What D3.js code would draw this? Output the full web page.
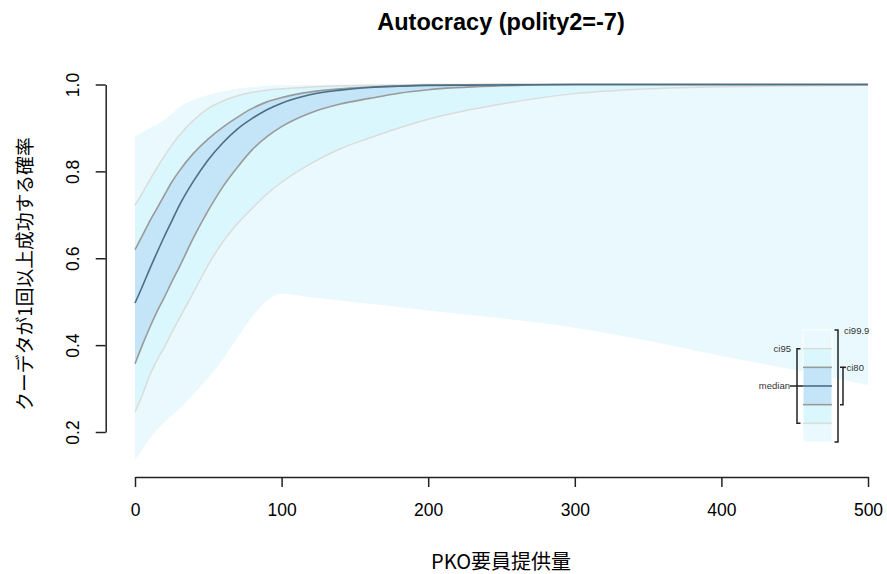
<!DOCTYPE html>
<html>
<head>
<meta charset="utf-8">
<script src="https://cdn.jsdelivr.net/npm/d3@7"></script>
<style>
  body { margin: 0; background: #fff; }
  text { font-family: "Liberation Sans", Arial, sans-serif; }
  .jp { font-family: "Noto Sans CJK JP", "Liberation Sans", sans-serif; }
</style>
</head>
<body>
<svg class="chart"></svg>
<script>
// Données
let xs     = [0, 5, 10, 15, 20, 25, 30, 40, 50, 60, 70, 80, 90, 100, 120, 140, 160, 180, 200, 250, 300, 350, 400, 450, 500];
let hi999  = [.881, .89, .90, .908, .918, .932, .947, .965, .976, .984, .99, .994, .997, .998, .999, 1, 1, 1, 1, 1, 1, 1, 1, 1, 1];
let hi95   = [.722, .75, .78, .808, .835, .86, .882, .918, .945, .962, .974, .982, .987, .990, .994, .997, .998, .999, 1, 1, 1, 1, 1, 1, 1];
let hi80   = [.62, .652, .685, .715, .745, .775, .80, .842, .875, .902, .925, .945, .96, .97, .983, .99, .994, .997, .999, 1, 1, 1, 1, 1, 1];
let median = [.497, .535, .575, .613, .65, .685, .72, .778, .827, .866, .898, .922, .942, .957, .977, .987, .993, .996, .998, .999, 1, 1, 1, 1, 1];
let lo80   = [.357, .40, .44, .477, .51, .545, .578, .648, .71, .765, .81, .85, .88, .903, .935, .955, .968, .98, .988, .997, 1, 1, 1, 1, 1];
let lo95   = [.246, .285, .33, .365, .395, .428, .46, .522, .585, .638, .68, .715, .748, .775, .818, .852, .877, .90, .92, .955, .979, .99, .995, .997, .998];
let lo999  = [.135, .16, .185, .205, .222, .238, .253, .288, .325, .368, .418, .466, .502, .518, .51, .503, .495, .488, .48, .462, .44, .41, .375, .343, .308];

let xTicks = [0, 100, 200, 300, 400, 500];
let yTicks = [0.2, 0.4, 0.6, 0.8, 1.0];
let legendKeys = ["ci99.9", "ci95", "ci80", "median"];

let title = "Autocracy (polity2=-7)";
let xTitle = "PKO要員提供量";
let yTitle = "クーデタが1回以上成功する確率";

let col = {c999: "#eaf9fd", c95: "#d9f7fc", c80: "#c4e4f7", l95: "#dcdcdc", l80: "#9a9a9a", med: "#4a6e85"};

let W = 887, H = 574;
let svg = d3.select(".chart").attr("width", W).attr("height", H);

// Echelles
let x = d3.scaleLinear().domain([0, 500]).range([135, 868]);
let y = d3.scaleLinear().domain([0.2, 1.0]).range([432, 84.5]);

let rows = xs.map(function(v, i) {
  return {x: v, hi999: hi999[i], hi95: hi95[i], hi80: hi80[i], med: median[i],
          lo80: lo80[i], lo95: lo95[i], lo999: lo999[i]};
});

function band(lo, hi) {
  return d3.area().curve(d3.curveMonotoneX)
    .x(function(d) { return x(d.x); })
    .y0(function(d) { return y(d[lo]); })
    .y1(function(d) { return y(d[hi]); });
}
function line(k) {
  return d3.line().curve(d3.curveMonotoneX)
    .x(function(d) { return x(d.x); })
    .y(function(d) { return y(d[k]); });
}

// Bandes
svg.append("path").datum(rows).attr("d", band("lo999", "hi999")).attr("fill", col.c999);
svg.append("path").datum(rows).attr("d", band("lo95", "hi95")).attr("fill", col.c95);
svg.append("path").datum(rows).attr("d", band("lo80", "hi80")).attr("fill", col.c80);

// Lignes
[["hi95", col.l95, 1.5], ["lo95", col.l95, 1.5], ["hi80", col.l80, 1.6], ["lo80", col.l80, 1.6], ["med", col.med, 1.6]]
  .forEach(function(s) {
    svg.append("path").datum(rows).attr("d", line(s[0]))
      .attr("fill", "none").attr("stroke", s[1]).attr("stroke-width", s[2]);
  });

// Axe x
let gx = svg.append("g").attr("transform", "translate(0,477)")
  .call(d3.axisBottom(x).tickValues(xTicks).tickSize(10).tickSizeOuter(0).tickPadding(17));
gx.selectAll("text").attr("font-size", "17.5px").attr("fill", "#000").style("font-family", "Liberation Sans, Arial, sans-serif");

// Axe y
let gy = svg.append("g").attr("transform", "translate(105.7,0)")
  .call(d3.axisLeft(y).tickValues(yTicks).tickSize(10).tickSizeOuter(0).tickFormat(d3.format(".1f")));
gy.selectAll("text")
  .attr("transform", "rotate(-90)")
  .attr("x", 0).attr("y", -33).attr("dy", "0.35em")
  .attr("text-anchor", "middle")
  .attr("font-size", "17.5px").attr("fill", "#000").style("font-family", "Liberation Sans, Arial, sans-serif");
[gx, gy].forEach(function(g) {
  g.selectAll("path, line").attr("stroke", "#222").attr("stroke-width", 1.5);
});

// Titres
svg.append("text").attr("x", 501).attr("y", 30).attr("text-anchor", "middle")
  .attr("font-size", "23.5px").attr("font-weight", "bold").text(title);
svg.append("text").attr("class", "jp").attr("x", 501).attr("y", 569).attr("text-anchor", "middle")
  .attr("font-size", "20px").text(xTitle);
svg.append("text").attr("class", "jp").attr("transform", "translate(32,274) rotate(-90)")
  .attr("text-anchor", "middle").attr("font-size", "18.8px").text(yTitle);

// Légende
let lg = svg.append("g");
let ly = d3.scaleLinear().domain([0, 6]).range([330, 442]);
let segFill = [col.c999, col.c95, col.c80, col.c80, col.c95, col.c999];
segFill.forEach(function(c, i) {
  lg.append("rect").attr("x", 803).attr("y", ly(i)).attr("width", 29).attr("height", ly(i + 1) - ly(i)).attr("fill", c);
});
lg.append("rect").attr("x", 803).attr("y", ly(0)).attr("width", 29).attr("height", ly(6) - ly(0))
  .attr("fill", "none").attr("stroke", "#fff").attr("stroke-width", 1);
[[1, col.l95], [2, col.l80], [3, col.med], [4, col.l80], [5, col.l95]].forEach(function(s) {
  lg.append("line").attr("x1", 803).attr("x2", 832).attr("y1", ly(s[0])).attr("y2", ly(s[0]))
    .attr("stroke", s[1]).attr("stroke-width", 1.6);
});
let bk = {stroke: "#222", w: 1.5};
function path(d) { lg.append("path").attr("d", d).attr("fill", "none").attr("stroke", bk.stroke).attr("stroke-width", bk.w); }
// ci99.9
path(`M834.5,${ly(0)}H838V${ly(6)}H834.5`);
// ci80
path(`M840,${ly(2)}H843V${ly(4)}H840`);
path(`M843,${ly(2)}H846`);
// ci95
path(`M800.5,${ly(1)}H797V${ly(5)}H800.5`);
// median
path(`M790,${ly(3)}H803`);

let lt = [[legendKeys[0], 844, ly(0) + 1, "start"], [legendKeys[2], 846.5, ly(2), "start"],
          [legendKeys[1], 791, ly(1), "end"], [legendKeys[3], 790, ly(3), "end"]];
lt.forEach(function(t) {
  lg.append("text").attr("x", t[1]).attr("y", t[2]).attr("dy", "0.35em").attr("text-anchor", t[3])
    .attr("font-size", "9.5px").attr("fill", "#333").text(t[0]);
});
</script>
</body>
</html>
